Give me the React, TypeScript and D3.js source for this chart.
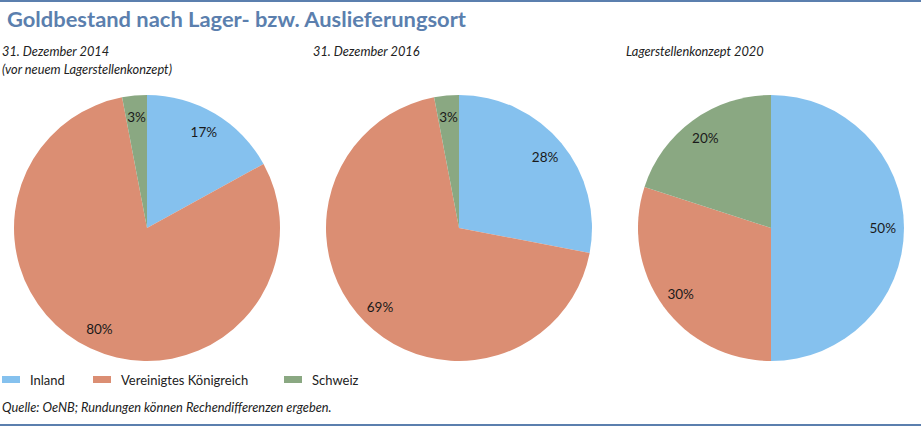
import React from "react";
import * as d3 from "d3";

const categories = ["Inland", "Vereinigtes Königreich", "Schweiz"];
const colors = ["#85c1ee", "#db8e73", "#8aa882"];
const panelTitles = [
  ["31. Dezember 2014", "(vor neuem Lagerstellenkonzept)"],
  ["31. Dezember 2016"],
  ["Lagerstellenkonzept 2020"],
];
const values2014 = [17, 80, 3];
const values2016 = [28, 69, 3];
const values2020 = [50, 30, 20];
const seriesValues = [values2014, values2016, values2020];

const W = 921;
const H = 427;
const FONT = "Lato, 'Open Sans', sans-serif";

export default function App() {
  React.useEffect(() => {
    document.body.style.margin = "0";
  }, []);
  const r = 133;
  const centersX = d3.scalePoint<number>().domain([0, 1, 2]).range([147, 771]);
  const cy = 228;
  const pie = d3.pie<number>().sort(null).value((d) => d);
  const arc = d3.arc<d3.PieArcDatum<number>>().innerRadius(0).outerRadius(r);
  const labelArc = d3.arc<d3.PieArcDatum<number>>().innerRadius(r * 0.84).outerRadius(r * 0.84);
  const titleX = [2, 313, 626];
  const legendX = [2, 93, 284];

  return (
    <svg width={W} height={H} style={{ display: "block" }} fontFamily={FONT}>
      <rect x={0} y={0} width={W} height={H} fill="#fff" />
      <line x1={0} x2={W} y1={1} y2={1} stroke="#5b7fae" strokeWidth={2} />
      <line x1={0} x2={W} y1={425} y2={425} stroke="#5b7fae" strokeWidth={2} />
      <text x={7} y={27} fill="#5b7fae" fontSize={21.5} fontWeight={700} textLength={459} lengthAdjust="spacingAndGlyphs">
        Goldbestand nach Lager- bzw. Auslieferungsort
      </text>
      {panelTitles.map((lines, i) => (
        <text key={i} x={titleX[i]} y={56} fontSize={12.8} fontStyle="italic" fill="#222">
          {lines.map((l, j) => (
            <tspan key={j} x={titleX[i]} dy={j === 0 ? 0 : 18}>
              {l}
            </tspan>
          ))}
        </text>
      ))}
      {seriesValues.map((vals, i) => {
        const arcs = pie(vals);
        const cx = centersX(i)!;
        return (
          <g key={i} transform={`translate(${cx},${cy})`}>
            {arcs.map((a, k) => (
              <path key={k} d={arc(a)!} fill={colors[k]} />
            ))}
            {arcs.map((a, k) => {
              const [lx, ly] = labelArc.centroid(a);
              return (
                <text key={"l" + k} x={lx} y={ly} textAnchor="middle" dominantBaseline="central" fontSize={13.5} fill="#1a1a1a">
                  {vals[k]}%
                </text>
              );
            })}
          </g>
        );
      })}
      {categories.map((c, i) => (
        <g key={c}>
          <rect x={legendX[i]} y={376} width={18} height={7} fill={colors[i]} />
          <text x={legendX[i] + 28} y={380} dominantBaseline="central" fontSize={13} fill="#222">
            {c}
          </text>
        </g>
      ))}
      <text x={2} y={412} fontSize={12.8} fontStyle="italic" fill="#222">
        Quelle: OeNB; Rundungen können Rechendifferenzen ergeben.
      </text>
    </svg>
  );
}
